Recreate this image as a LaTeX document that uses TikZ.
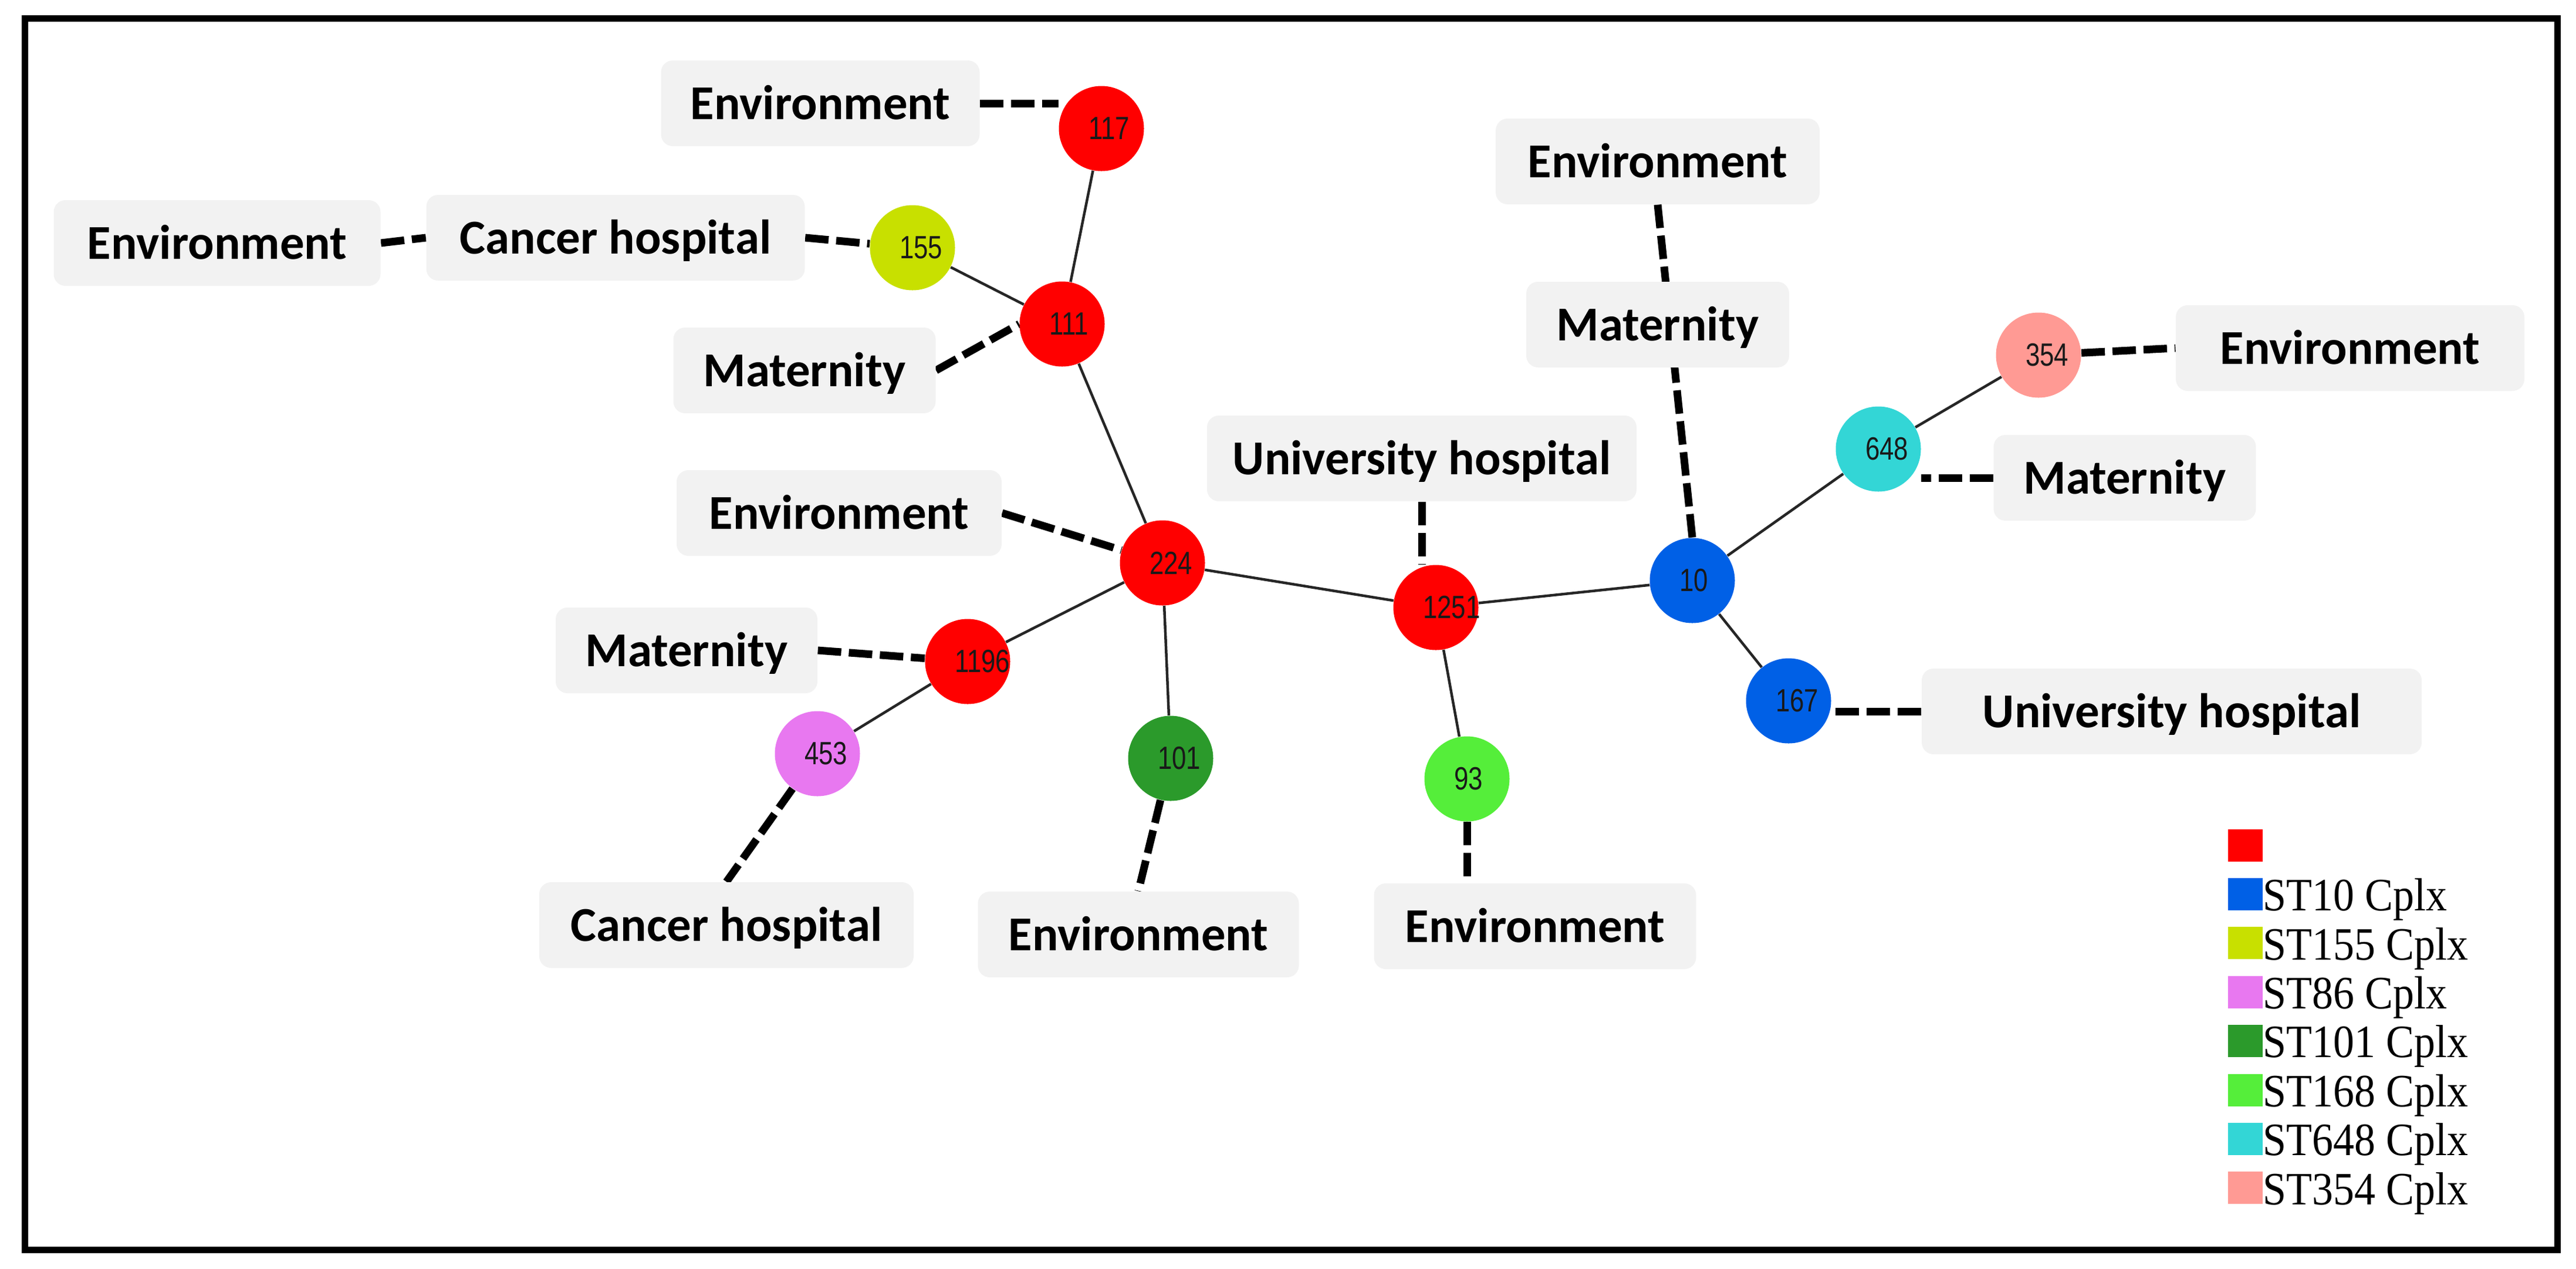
\documentclass[tikz,border=0pt]{standalone}
\usepackage{fontspec}
\setmainfont{Carlito}
\newfontfamily\numfont[FakeStretch=0.8]{Liberation Sans}
\newfontfamily\legfont[FakeStretch=0.91]{Liberation Serif}
\usetikzlibrary{backgrounds}
\definecolor{stRed}{HTML}{FF0000}
\definecolor{stBlue}{HTML}{0060E6}
\definecolor{stLime}{HTML}{C8E000}
\definecolor{stViolet}{HTML}{E878F0}
\definecolor{stDark}{HTML}{2B9A2B}
\definecolor{stLight}{HTML}{55EE3A}
\definecolor{stCyan}{HTML}{33D6D6}
\definecolor{stSalmon}{HTML}{FF9A94}
\definecolor{boxGray}{HTML}{F2F2F2}
\tikzset{MSTree/.style={
    st/.style = {circle, fill=##1, minimum size=1.45cm, inner sep=0pt,
                  text width=0.44cm, align=left, text=black!90,
                  font=\numfont\fontsize{15.6pt}{16pt}\selectfont},
    site/.style = {fill=boxGray, rounded corners=2mm, minimum height=1.46cm,
                  inner sep=0pt, text height=0.54cm, text depth=0pt,
                  font=\fontsize{23.6pt}{28pt}\selectfont\bfseries},
    link/.style = {draw=black!85, line width=0.045cm},
    epi/.style = {draw=black, line width=0.13cm, dash pattern=on 0.4cm off 0.13cm},
    key/.style = {minimum width=0.59cm, minimum height=0.55cm, inner sep=0pt},
    keytext/.style = {anchor=base west, inner sep=0pt,
                  font=\legfont\fontsize{22.5pt}{26pt}\selectfont}
}}

\begin{document}
\begin{tikzpicture}[MSTree]
        \useasboundingbox (0,0) rectangle (43.9,-21.61);
        \draw [line width=0.11cm] (0.42,-0.31) rectangle (43.58,-21.29);

        % sequence types
        \node [st=stRed]     (n117)  at (18.77,-2.19)  {117};
        \node [st=stLime]    (n155)  at (15.55,-4.22)  {155};
        \node [st=stRed]     (n111)  at (18.10,-5.52)  {111};
        \node [st=stRed]     (n224)  at (19.81,-9.59)  {224};
        \node [st=stRed]     (n1196) at (16.49,-11.27) {1196};
        \node [st=stViolet]  (n453)  at (13.93,-12.84) {453};
        \node [st=stDark]    (n101)  at (19.95,-12.92) {101};
        \node [st=stRed]     (n1251) at (24.47,-10.35) {1251};
        \node [st=stLight]   (n93)   at (25.00,-13.27) {93};
        \node [st=stBlue]    (n10)   at (28.84,-9.89)  {10};
        \node [st=stCyan]    (n648)  at (32.01,-7.65)  {648};
        \node [st=stSalmon]  (n354)  at (34.74,-6.05)  {354};
        \node [st=stBlue]    (n167)  at (30.48,-11.94) {167};

        % isolation sites
        \node [site, minimum width=5.43cm] (envA)    at (13.98,-1.76)  {Environment};
        \node [site, minimum width=5.57cm] (envB)    at (3.70,-4.14)   {Environment};
        \node [site, minimum width=6.45cm] (cancerA) at (10.49,-4.05)  {Cancer hospital};
        \node [site, minimum width=4.47cm] (materA)  at (13.71,-6.31)  {Maternity};
        \node [site, minimum width=5.54cm] (envC)    at (14.30,-8.74)  {Environment};
        \node [site, minimum width=7.32cm] (univA)   at (24.23,-7.81)  {University hospital};
        \node [site, minimum width=5.52cm] (envD)    at (28.25,-2.75)  {Environment};
        \node [site, minimum width=4.48cm] (materB)  at (28.25,-5.53)  {Maternity};
        \node [site, minimum width=5.94cm] (envE)    at (40.05,-5.93)  {Environment};
        \node [site, minimum width=4.47cm] (materC)  at (36.21,-8.14)  {Maternity};
        \node [site, minimum width=4.46cm] (materD)  at (11.70,-11.08) {Maternity};
        \node [site, minimum width=6.38cm] (cancerB) at (12.38,-15.76) {Cancer hospital};
        \node [site, minimum width=5.47cm] (envF)    at (19.40,-15.92) {Environment};
        \node [site, minimum width=5.49cm] (envG)    at (26.16,-15.78) {Environment};
        \node [site, minimum width=8.52cm] (univB)   at (37.01,-12.12) {University hospital};

        \begin{scope}[on background layer]
            \path [link]
            (n117) edge (n111)
            (n155) edge (n111)
            (n111) edge (n224)
            (n224) edge (n1196)
            (n1196) edge (n453)
            (n224) edge (n101)
            (n224) edge (n1251)
            (n1251) edge (n93)
            (n1251) edge (n10)
            (n10) edge (n648)
            (n648) edge (n354)
            (n10) edge (n167);

            \path [epi]
            (envA.east) edge (envA.east -| n117.west)
            (envB.east) edge (cancerA.west)
            (cancerA.east) edge (n155)
            (materA.east) edge (n111.west)
            (envC.east) edge (n224)
            (materD.east) edge (n1196)
            (n453) edge (cancerB.north)
            (n101) edge (envF.north)
            (n93.south) edge (n93.south |- envG.north)
            (univA.south) edge (univA.south |- n1251.north)
            (envD.south) edge (n10.north)
            (n354) edge (envE.west)
            (materC.west) edge (materC.west -| n648.east)
            (univB.west) edge (univB.west -| n167.east);
        \end{scope}

        % legend
        \node [key, fill=stRed] (k0) at (38.26,-14.40) {};
        \foreach \c/\t [count=\i] in {stBlue/ST10 Cplx, stLime/ST155 Cplx,
                stViolet/ST86 Cplx, stDark/ST101 Cplx, stLight/ST168 Cplx,
                stCyan/ST648 Cplx, stSalmon/ST354 Cplx} {
            \node [key, fill=\c] (k\i) at (38.26,-14.40-0.834*\i) {};
            \node [keytext] (t\i) at (k\i.south east) {\t};
        }
    \end{tikzpicture}
\end{document}
